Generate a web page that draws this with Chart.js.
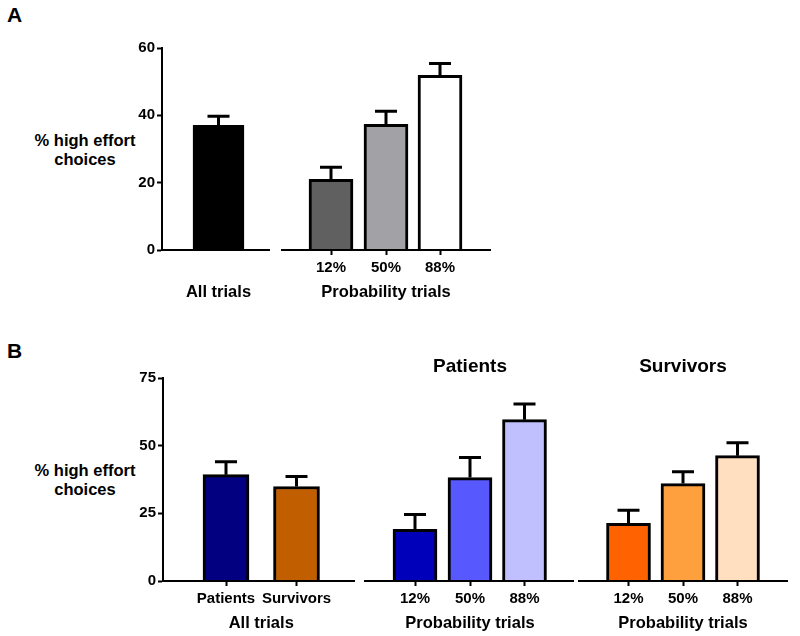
<!DOCTYPE html>
<html>
<head>
<meta charset="utf-8">
<script src="https://cdn.jsdelivr.net/npm/chart.js@4"></script>
<style>
  body { margin: 0; background: #fff; font-family: "Liberation Sans", Arial, sans-serif; }
  #page { position: relative; width: 800px; height: 636px; }
  canvas { position: absolute; left: 0; }
  .panel { position: absolute; font-weight: bold; font-size: 21px; }
  .ylab { position: absolute; width: 150px; text-align: center; font-weight: bold; font-size: 16.5px; line-height: 19px; }
</style>
</head>
<body>
<div id="page">
  <div class="panel" style="left:7px;top:3px">A</div>
  <div class="panel" style="left:7px;top:339px">B</div>
  <div class="ylab" style="left:10px;top:131px">% high effort<br>choices</div>
  <div class="ylab" style="left:10px;top:461px">% high effort<br>choices</div>
  <canvas id="chartA" width="800" height="318" style="top:0"></canvas>
  <canvas id="chartB" width="800" height="318" style="top:318px"></canvas>
</div>
<script>
// ---- data ----
const probLabels = ['12%', '50%', '88%'];
const groupLabelsB = ['Patients', 'Survivors'];

// Panel A
const allTrialsA = [37.0];
const allTrialsErrA = [2.7];
const probValuesA = [21.0, 37.3, 51.9];
const probErrA = [3.6, 3.9, 3.5];
const yTicksA = [0, 20, 40, 60];

// Panel B
const allTrialsB = [39.3, 34.9];
const allTrialsErrB = [4.8, 3.7];
const patientValues = [19.1, 38.2, 59.6];
const patientErr = [5.5, 7.4, 5.8];
const survivorValues = [21.3, 36.0, 46.3];
const survivorErr = [4.8, 4.4, 4.8];
const yTicksB = [0, 25, 50, 75];

// ---- layout (x positions in px from the y axis) ----
const posA = { all: [56.5], prob: [169, 224, 278] };
const posB = { all: [63, 133.5], pat: [252, 307, 361.5], sur: [465.5, 520, 574.5] };

const FONT = '"Liberation Sans", Arial, sans-serif';

// error bars drawn upward from the top of each bar
const errorBars = {
  id: 'errorBars',
  afterDatasetsDraw(chart) {
    const ctx = chart.ctx;
    ctx.save();
    ctx.strokeStyle = '#000';
    ctx.lineWidth = 3;
    chart.data.datasets.forEach((ds, i) => {
      const meta = chart.getDatasetMeta(i);
      meta.data.forEach((bar, j) => {
        const e = ds.errors[j];
        const x = bar.x;
        const yTop = chart.scales.y.getPixelForValue(ds.data[j].y + e);
        ctx.beginPath();
        ctx.moveTo(x, bar.y);
        ctx.lineTo(x, yTop);
        ctx.moveTo(x - 11, yTop);
        ctx.lineTo(x + 11, yTop);
        ctx.stroke();
      });
    });
    ctx.restore();
  }
};

// broken baseline, group labels and titles
const groups = {
  id: 'groups',
  afterDraw(chart, args, opts) {
    const ctx = chart.ctx;
    const xs = chart.scales.x, ys = chart.scales.y;
    const y0 = ys.getPixelForValue(0);
    ctx.save();
    ctx.strokeStyle = '#000';
    ctx.lineWidth = 2;
    ctx.fillStyle = '#000';
    ctx.textAlign = 'center';
    ctx.textBaseline = 'middle';
    opts.items.forEach(g => {
      ctx.beginPath();
      ctx.moveTo(xs.getPixelForValue(g.from), y0);
      ctx.lineTo(xs.getPixelForValue(g.to), y0);
      ctx.stroke();
      ctx.font = 'bold 16.5px ' + FONT;
      ctx.fillText(g.label, xs.getPixelForValue(g.at), y0 + 42);
      if (g.title) {
        ctx.font = 'bold 19px ' + FONT;
        ctx.fillText(g.title, xs.getPixelForValue(g.at), ys.top - 11);
      }
    });
    ctx.restore();
  }
};

function points(xs, ys) {
  return xs.map((x, i) => ({ x: x, y: ys[i] }));
}

function makeChart(id, datasets, yTicks, yMax, width, pad, tickPos, tickLabels, groupItems) {
  return new Chart(document.getElementById(id), {
    type: 'bar',
    data: { datasets: datasets },
    options: {
      responsive: false,
      animation: false,
      layout: { padding: pad },
      plugins: { legend: { display: false }, tooltip: { enabled: false }, groups: { items: groupItems } },
      datasets: { bar: { grouped: false, borderColor: '#000', borderWidth: 3, borderSkipped: 'bottom' } },
      scales: {
        x: {
          type: 'linear', min: 0, max: width, offset: false,
          border: { display: false },
          grid: {
            offset: false, drawOnChartArea: false, tickLength: 5, tickWidth: 2,
            color: ctx => (ctx.tick && ctx.tick.label === '' ? 'rgba(0,0,0,0)' : '#000')
          },
          afterBuildTicks: axis => { axis.ticks = tickPos.map(v => ({ value: v })); },
          afterFit: axis => { axis.height = 50; },
          ticks: {
            autoSkip: false, maxRotation: 0, padding: 4, color: '#000',
            font: { family: FONT, size: 15, weight: 'bold' },
            callback: (v, i) => tickLabels[i]
          }
        },
        y: {
          min: 0, max: yMax,
          border: { display: true, color: '#000', width: 2 },
          grid: { drawOnChartArea: false, tickLength: 5, tickWidth: 2, color: '#000' },
          afterBuildTicks: axis => { axis.ticks = yTicks.map(v => ({ value: v })); },
          afterFit: axis => { axis.width = 60; },
          ticks: { padding: 2, color: '#000', font: { family: FONT, size: 15, weight: 'bold' } }
        }
      }
    },
    plugins: [errorBars, groups]
  });
}

// Panel A
makeChart('chartA', [
  { data: points(posA.all, allTrialsA), errors: allTrialsErrA, backgroundColor: '#000000', barThickness: 51 },
  { data: points(posA.prob, probValuesA), errors: probErrA, backgroundColor: ['#606060', '#a2a2a6', '#ffffff'], barThickness: 44 }
], yTicksA, 60, 329,
  { left: 102, right: 309, top: 48, bottom: 18 },
  posA.all.concat(posA.prob), [''].concat(probLabels),
  [
    { from: 0, to: 108, at: posA.all[0], label: 'All trials' },
    { from: 119, to: 329, at: posA.prob[1], label: 'Probability trials' }
  ]);

// Panel B
makeChart('chartB', [
  { data: points(posB.all, allTrialsB), errors: allTrialsErrB, backgroundColor: ['#020080', '#c05e00'], barThickness: 46 },
  { data: points(posB.pat, patientValues), errors: patientErr, backgroundColor: ['#0000bb', '#5858ff', '#c0c0ff'], barThickness: 44 },
  { data: points(posB.sur, survivorValues), errors: survivorErr, backgroundColor: ['#ff6200', '#ffa03f', '#ffdfc0'], barThickness: 44 }
], yTicksB, 75, 625,
  { left: 103, right: 12, top: 60, bottom: 5 },
  posB.all.concat(posB.pat, posB.sur), groupLabelsB.concat(probLabels, probLabels),
  [
    { from: 0, to: 192, at: (posB.all[0] + posB.all[1]) / 2, label: 'All trials' },
    { from: 201, to: 411, at: posB.pat[1], label: 'Probability trials', title: 'Patients' },
    { from: 415, to: 625, at: posB.sur[1], label: 'Probability trials', title: 'Survivors' }
  ]);
</script>
</body>
</html>
